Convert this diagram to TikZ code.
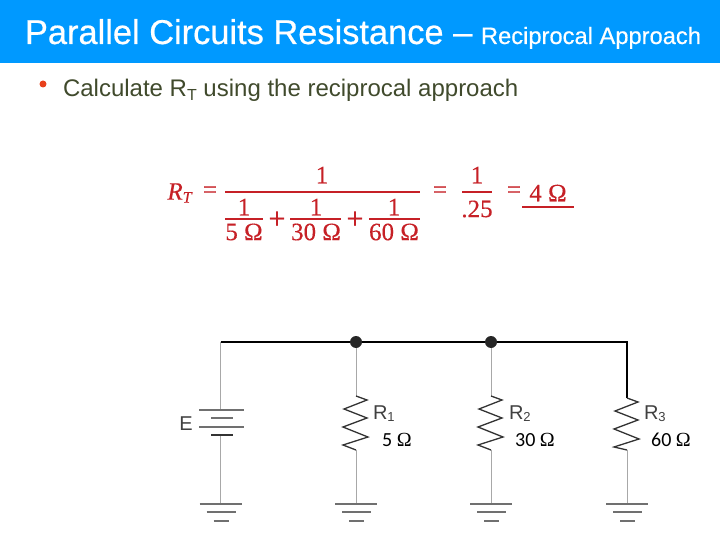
\documentclass[tikz,border=0pt]{standalone}
\usepackage{fontspec}
\setmainfont{Liberation Sans}
\newfontfamily\headfont[FakeBold=0.5]{Liberation Sans}
\newfontfamily\mathfont[FakeBold=0.3]{Liberation Serif}
\newfontfamily\plusfont[FakeBold=1.5]{Liberation Serif}
\newfontfamily\valfont{Carlito}
\newfontfamily\omegafont{Liberation Serif}
\usepackage{color}
\definecolor{bandblue}{HTML}{0099FF}
\definecolor{bodytext}{HTML}{404A2C}
\definecolor{bulletred}{HTML}{E8401C}
\definecolor{formred}{HTML}{C62026}
\definecolor{wiregray}{HTML}{A8A8A8}
\definecolor{partgray}{HTML}{707070}
\definecolor{labelgray}{HTML}{404040}

\begin{document}
\begin{tikzpicture}[x=1pt,y=-1pt]
      \tikzstyle{every node}=[inner sep=0pt,outer sep=0pt]
      \tikzstyle{titletext}=[anchor=base west,text=white]
      \tikzstyle{form}=[text=formred,font=\mathfont\fontsize{25}{25}\selectfont]
      \tikzstyle{plussign}=[text=formred,font=\plusfont\fontsize{30}{30}\selectfont]
      \tikzstyle{bar}=[formred,line width=1.3pt]
      \tikzstyle{busline}=[black,line width=2.2pt]
      \tikzstyle{wire}=[wiregray,line width=1pt]
      \tikzstyle{plate}=[partgray,line width=1.4pt]
      \tikzstyle{junction}=[circle,fill=black!85,minimum size=12pt]
      \tikzstyle{part}=[text=labelgray,font=\fontsize{20}{20}\selectfont]
      \tikzstyle{val}=[text=black,font=\valfont\fontsize{20}{20}\selectfont]
      \tikzstyle{zigzag}=[to path={-- ++(11,4) -- ++(-23,9) -- ++(23,9) -- ++(-24,9) -- ++(25,10) -- ++(-25,8) -- (\tikztotarget)}]

      \useasboundingbox (0,0) rectangle (720,540);
      \fill[bandblue] (0,0) rectangle (720,63);
      \node[titletext,font=\headfont\fontsize{34.4}{34.4}\selectfont] (title) at (25,44) {Parallel Circuits Resistance –};
      \node[titletext,font=\headfont\fontsize{23.7}{23.7}\selectfont] (subtitle) at (481,44) {Reciprocal Approach};
      \node[circle,fill=bulletred,minimum size=7pt] (bullet) at (43,84) {};
      \node[anchor=base west,text=bodytext,font=\fontsize{24}{24}\selectfont] (task) at (63,97) {Calculate R\raisebox{-4pt}{\fontsize{16}{16}\selectfont T} using the reciprocal approach};

      % the formula
      \node[form] (rt) at (180,193) {\textit{R}\raisebox{-3pt}{\fontsize{16}{16}\selectfont\textit{T}}};
      \node[form] (eqa) at (210,192) {=};
      \node[form] (one) at (322,175) {1};
      \draw[bar] (225,192) -- (420,192);
      \node[form] (onea) at (244,207) {1};
      \node[form] (oneb) at (316,207) {1};
      \node[form] (onec) at (394,207) {1};
      \draw[bar] (225,219) -- (263,219);
      \draw[bar] (290,219) -- (341,219);
      \draw[bar] (369,219) -- (420,219);
      \node[form] (dena) at (244,232) {5 Ω};
      \node[form] (denb) at (316,232) {30 Ω};
      \node[form] (denc) at (394,232) {60 Ω};
      \node[plussign] (plusa) at (277,220) {+};
      \node[plussign] (plusb) at (355,220) {+};
      \node[form] (eqb) at (440,192) {=};
      \node[form] (onef) at (477,175) {1};
      \draw[bar] (462,192) -- (492,192);
      \node[form] (quarter) at (477,209) {.25};
      \node[form] (eqc) at (514,192) {=};
      \node[form] (result) at (548,193) {4 Ω};
      \draw[formred,line width=2pt] (522,207) -- (574,207);

      % the circuit
      \node[junction] (ja) at (356,342) {};
      \node[junction] (jb) at (491,342) {};
      \coordinate (corner) at (220.5,342);
      \coordinate (turn) at (627,342);
      \coordinate (ratop) at (356,396);
      \coordinate (rabot) at (356,450);
      \coordinate (rbtop) at (491,396);
      \coordinate (rbbot) at (491,450);
      \coordinate (rctop) at (627,398);
      \coordinate (rcbot) at (627,450);
      \coordinate (batta) at (220.5,410);
      \coordinate (battb) at (220.5,435);
      \coordinate (gnde) at (220.5,504);
      \coordinate (gnda) at (356,504);
      \coordinate (gndb) at (491,504);
      \coordinate (gndc) at (627,504);

      \draw[wire] (corner) -- (batta);
      \draw[wire] (battb) -- (gnde);
      \draw[wire] (ja) -- (ratop);
      \draw[wire] (jb) -- (rbtop);
      \draw[wire] (rabot) -- (gnda);
      \draw[wire] (rbbot) -- (gndb);
      \draw[wire] (rcbot) -- (gndc);
      \draw[busline] (corner) -- (ja) -- (jb) -- (turn) -- (rctop);

      \draw[plate] (199,410) -- (244,410);
      \draw[plate] (211,418) -- (233,418);
      \draw[plate] (199,427) -- (244,427);
      \draw[black!80,line width=2pt] (211,435) -- (233,435);

      \draw[black!80,line width=1.3pt] (ratop) to[zigzag] (rabot);
      \draw[black!80,line width=1.3pt] (rbtop) to[zigzag] (rbbot);
      \draw[black!80,line width=1.3pt] (rctop) to[zigzag] (rcbot);

      \draw[plate] (gnde) +(-21,0) -- +(21,0) +(-14,8) -- +(15,8) +(-7,17) -- +(8,17);
      \draw[plate] (gnda) +(-21,0) -- +(21,0) +(-14,8) -- +(15,8) +(-7,17) -- +(8,17);
      \draw[plate] (gndb) +(-21,0) -- +(21,0) +(-14,8) -- +(15,8) +(-7,17) -- +(8,17);
      \draw[plate] (gndc) +(-21,0) -- +(21,0) +(-14,8) -- +(15,8) +(-7,17) -- +(8,17);

      \node[part] (elabel) at (186,424) {E};
      \node[part,anchor=base west] (ra) at (373,419) {R\raisebox{-2pt}{\fontsize{13}{13}\selectfont 1}};
      \node[part,anchor=base west] (rb) at (509,419) {R\raisebox{-2pt}{\fontsize{13}{13}\selectfont 2}};
      \node[part,anchor=base west] (rc) at (644,419) {R\raisebox{-2pt}{\fontsize{13}{13}\selectfont 3}};
      \node[val] (vala) at (397,440) {5 {\omegafont Ω}};
      \node[val] (valb) at (535,440) {30 {\omegafont Ω}};
      \node[val] (valc) at (671,440) {60 {\omegafont Ω}};
\end{tikzpicture}
\end{document}
